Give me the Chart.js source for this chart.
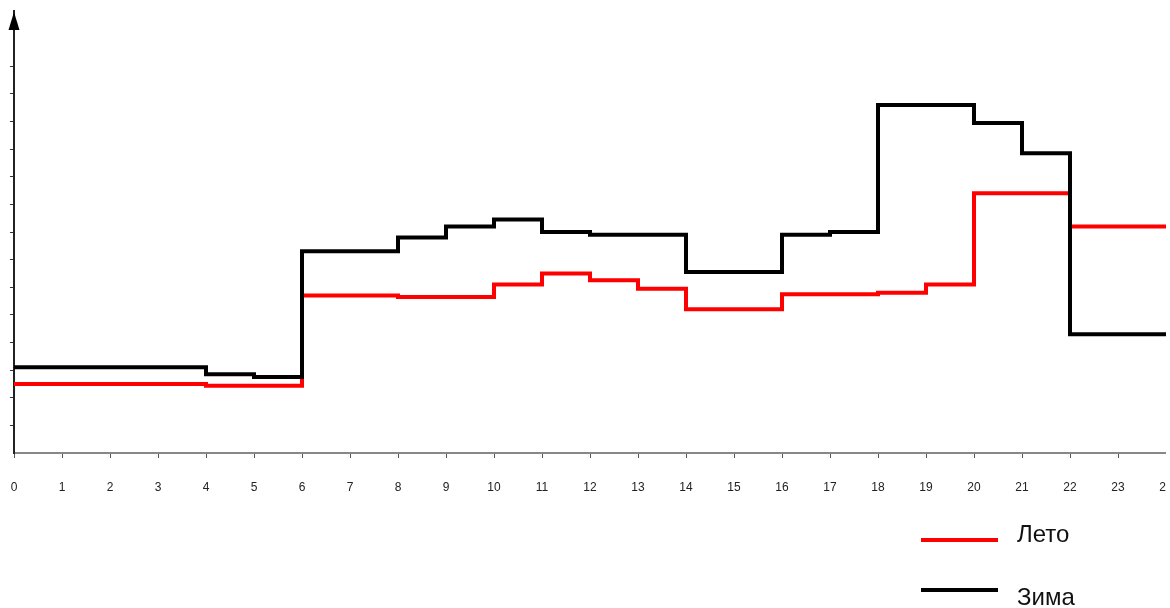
<!DOCTYPE html>
<html>
<head>
<meta charset="utf-8">
<script src="https://cdn.jsdelivr.net/npm/chart.js@4"></script>
<style>
  html, body { margin: 0; padding: 0; background: #fff; overflow: hidden; }
  #wrap { width: 1166px; height: 608px; overflow: hidden; }
</style>
</head>
<body>
<div id="wrap"><canvas id="myChart" width="1180" height="608"></canvas></div>
<script>
// hours of the day, tick labels 0..24
const hours = [0,1,2,3,4,5,6,7,8,9,10,11,12,13,14,15,16,17,18,19,20,21,22,23,24]

// values for each hour (0..23)
const leto = [2.5,2.5,2.5,2.5,2.43,2.43,5.7,5.7,5.65,5.65,6.1,6.5,6.25,5.95,5.2,5.2,5.75,5.75,5.8,6.1,9.4,9.4,8.2,8.2]
const zima = [3.1,3.1,3.1,3.1,2.85,2.75,7.3,7.3,7.8,8.2,8.45,8.0,7.9,7.9,6.55,6.55,7.9,8.0,12.6,12.6,11.95,10.85,4.3,4.3]

const seriesNames = ['Лето', 'Зима']
const seriesColors = ['#ff0000', '#000000']

// step points: each value holds until next hour, last one is carried to 24
const toPoints = (arr) => {
	const pts = arr.map((v, i) => ({ x: hours[i], y: v }))
	pts.push({ x: hours[arr.length], y: arr[arr.length - 1] })
	return pts
}

const legendPlugin = {
	id: 'sideLegend',
	afterDraw(chart) {
		const c = chart.ctx
		const rows = [
			{ y: 540, ty: 542 },
			{ y: 590, ty: 605 }
		]
		c.save()
		c.font = '24px "Liberation Sans", Arial, sans-serif'
		c.textBaseline = 'alphabetic'
		seriesNames.forEach((name, i) => {
			c.strokeStyle = seriesColors[i]
			c.lineWidth = 4
			c.beginPath()
			c.moveTo(921, rows[i].y)
			c.lineTo(998, rows[i].y)
			c.stroke()
			c.fillStyle = '#111'
			c.fillText(name, 1017, rows[i].ty)
		})
		c.restore()
	}
}

const arrowPlugin = {
	id: 'yArrow',
	afterDraw(chart) {
		const c = chart.ctx
		const x = chart.chartArea.left
		c.save()
		c.fillStyle = '#000'
		c.beginPath()
		c.moveTo(x, 12)
		c.lineTo(x - 5.5, 30)
		c.lineTo(x + 5.5, 30)
		c.closePath()
		c.fill()
		c.restore()
	}
}

const ctx = document.getElementById('myChart')

new Chart(ctx, {
	type: 'line',
	data: {
		datasets: [{
			label: seriesNames[0],
			data: toPoints(leto),
			borderColor: seriesColors[0],
			borderWidth: 4,
			stepped: true,
			pointRadius: 0,
			borderJoinStyle: 'miter',
			order: 1
		}, {
			label: seriesNames[1],
			data: toPoints(zima),
			borderColor: seriesColors[1],
			borderWidth: 4,
			stepped: true,
			pointRadius: 0,
			borderJoinStyle: 'miter',
			order: 0
		}]
	},
	options: {
		responsive: false,
		animation: false,
		layout: { padding: { top: 11, right: 14, left: 0, bottom: 0 } },
		plugins: {
			legend: { display: false },
			tooltip: { enabled: false }
		},
		scales: {
			x: {
				type: 'linear',
				min: 0,
				max: 24,
				afterBuildTicks: (axis) => { axis.ticks = hours.map(h => ({ value: h })) },
				afterFit: (axis) => {
					axis.height = 155
					axis.paddingLeft = 0
					axis.paddingRight = 0
				},
				border: { display: true, color: '#888', width: 2 },
				grid: { drawOnChartArea: false, drawTicks: true, tickLength: 5, color: '#555' },
				ticks: {
					autoSkip: false,
					maxRotation: 0,
					padding: 22,
					color: '#222',
					font: { family: '"Liberation Sans", Arial, sans-serif', size: 12 }
				}
			},
			y: {
				min: 0,
				max: 16,
				afterFit: (axis) => {
					axis.width = 14
					axis.paddingTop = 0
					axis.paddingBottom = 0
				},
				border: { display: true, color: '#222', width: 2 },
				grid: {
					drawOnChartArea: false,
					drawTicks: true,
					tickLength: 4,
					color: (c) => (c.tick && c.tick.value > 0 && c.tick.value <= 14) ? '#333' : 'rgba(0,0,0,0)'
				},
				ticks: { stepSize: 1, display: false }
			}
		}
	},
	plugins: [legendPlugin, arrowPlugin]
})
</script>
</body>
</html>
